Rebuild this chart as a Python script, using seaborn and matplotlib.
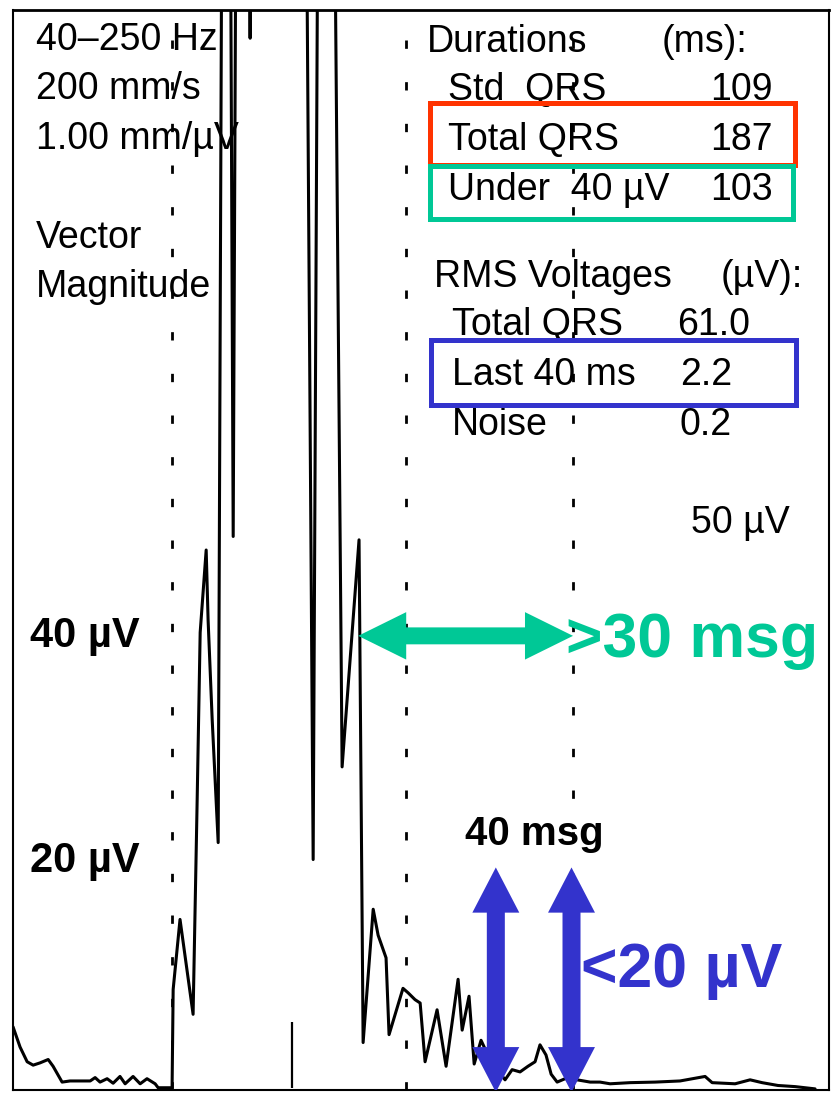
import numpy as np
import pandas as pd
import matplotlib
matplotlib.use('Agg')
import matplotlib.pyplot as plt
from matplotlib.patches import Rectangle, Polygon
import seaborn as sns

# Vector magnitude trace (time in ms from QRS onset, amplitude in uV)
trace_t = [-74.2, -70.9, -67.6, -64.8, -61.6, -57.8, -55.5, -51.3, -47.6, -38.2,
           -35.9, -33.6, -30.3, -27.5, -24.3, -21.9, -18.2, -14.9, -11.7, -7.9,
           -6.5, 0.0, 0.5, 3.7, 9.8, 11.7, 13.1, 15.9, 16.8, 18.7,
           21.5, 23.3, 27.1, 28.5, 29.9, 35.4, 36.4, 37.3, 62.5, 65.8,
           68.1, 75.6, 79.3, 87.2, 89.1, 93.8, 96.1, 99.8, 101.2, 107.7,
           110.1, 113.3, 115.7, 118.0, 123.6, 127.8, 133.4, 135.3, 138.5, 140.9,
           144.1, 148.3, 155.3, 158.6, 162.3, 166.0, 169.3, 171.6, 174.4, 176.8,
           179.6, 183.3, 188.9, 195.0, 199.6, 204.3, 213.6, 225.3, 236.9, 248.6,
           251.9, 262.6, 269.6, 275.2, 282.6, 290.6, 299.9]
trace_uv = [5.4, 3.6, 2.3, 2.0, 2.2, 2.5, 1.9, 0.5, 0.6, 0.6,
            0.9, 0.5, 0.8, 0.4, 1.0, 0.35, 1.0, 0.35, 0.8, 0.35,
            0.0, 0.0, 8.7, 14.9, 6.5, 25.5, 40.3, 47.6, 41.4, 32.6,
            21.7, 110, 110, 48.8, 110, 110, 92.9, 110, 110, 20.2,
            110, 110, 28.4, 48.5, 4.0, 15.8, 13.5, 11.5, 4.7, 8.8,
            8.4, 7.8, 7.5, 2.3, 6.9, 1.9, 9.6, 5.1, 8.1, 2.1,
            4.2, 2.5, 0.7, 1.6, 1.4, 1.9, 2.3, 3.8, 2.9, 1.2,
            0.5, 0.8, 0.7, 0.5, 0.5, 0.35, 0.45, 0.5, 0.6, 1.0,
            0.45, 0.35, 0.7, 0.45, 0.2, 0.1, -0.1]

# QRS markers (ms): onset, std QRS end, total QRS end
marker_t = [0, 109, 187]
fiducial_t = 56
fiducial_uv = 5.8

# Report values
dur_labels = ['Std  QRS', 'Total QRS', 'Under  40 \u00b5V']
dur_values = ['109', '187', '103']
rms_labels = ['Total QRS', 'Last 40 ms', 'Noise']
rms_values = ['61.0', '2.2', '0.2']
header_lines = ['40\u2013250 Hz', '200 mm/s', '1.00 mm/\u00b5V', '', 'Vector', 'Magnitude']

# Annotation values
under40_start = 86.8
qrs_end = 187
last40_start = 151
last40_end = 186.3
arrow_level = 40
arrow_top = 19.5
arrow_bottom = -0.4

df = pd.DataFrame({'t': trace_t, 'uv': trace_uv})

W, H = 835, 1098
fig = plt.figure(figsize=(W / 100, H / 100), dpi=100)
sns.set_style('white')
plt.rcParams['font.family'] = ['Liberation Sans', 'DejaVu Sans']
plt.rcParams['text.color'] = 'black'
ax = fig.add_axes([13 / W, 8 / H, 816 / W, 1080 / H])

sns.lineplot(data=df, x='t', y='uv', estimator=None, sort=False,
             color='black', lw=2.2, ax=ax)
for m in marker_t:
    ax.axvline(m, color='black', lw=2, ls=(0, (3, 12)), zorder=1)
ax.vlines(fiducial_t, 0, fiducial_uv, color='black', lw=1.6)

ax.set_xlim(-74.2, 306.4)
ax.set_ylim(-0.2, 95.4)
ax.set_xticks([])
ax.set_yticks([])
ax.set_xlabel('')
ax.set_ylabel('')
for s in ax.spines.values():
    s.set_color('black')
    s.set_linewidth(1.5)
ax.spines['top'].set_linewidth(2)


def pos(px, py):
    # pixel position of the scan -> axes fraction
    return (px - 13) / 816, (1090 - py) / 1080


def txt(px, py, s, **kw):
    x, y = pos(px, py)
    kw.setdefault('color', 'black')
    ax.text(x, y, s, transform=ax.transAxes, va='baseline', **kw)


def double_arrow(a0, a1, c, w, hw, hl, color, vertical=False):
    # one polygon, heads at both ends; along-axis a0..a1, cross-axis centre c
    pts = [(a0, c), (a0 + hl, c + hw / 2), (a0 + hl, c + w / 2),
           (a1 - hl, c + w / 2), (a1 - hl, c + hw / 2), (a1, c),
           (a1 - hl, c - hw / 2), (a1 - hl, c - w / 2),
           (a0 + hl, c - w / 2), (a0 + hl, c - hw / 2)]
    if vertical:
        pts = [(y, x) for x, y in pts]
    ax.add_patch(Polygon(pts, closed=True, fc=color, ec='none', zorder=6))


fs = 27

# printed header (left)
for i, line in enumerate(header_lines):
    if line:
        txt(36, 50 + i * 49.4, line, fontsize=fs)

# printed report (right)
txt(427, 52, 'Durations', fontsize=fs)
txt(662, 52, '(ms):', fontsize=fs)
for i, (lab, val) in enumerate(zip(dur_labels, dur_values)):
    txt(448, 100 + i * 50, lab, fontsize=fs)
    txt(773, 100 + i * 50, val, fontsize=fs, ha='right')
txt(434, 287, 'RMS Voltages', fontsize=fs)
txt(721, 287, '(\u00b5V):', fontsize=fs)
rms_x = [750, 732, 732]
for i, (lab, val) in enumerate(zip(rms_labels, rms_values)):
    txt(452, 335 + i * 50, lab, fontsize=fs)
    txt(rms_x[i], 335 + i * 50, val, fontsize=fs, ha='right')
txt(691, 533, '50 \u00b5V', fontsize=fs)

# highlight boxes
red, green, blue = '#FF3300', '#00C896', '#3333CC'
for (x0, y0, x1, y1), c in [((430, 103, 795, 165), red),
                            ((430, 166, 793, 219), green),
                            ((431, 340, 796, 405), blue)]:
    ax0, ay1 = pos(x0, y1)
    ax1, ay0 = pos(x1, y0)
    ax.add_patch(Rectangle((ax0, ay1), ax1 - ax0, ay0 - ay1, transform=ax.transAxes,
                           fill=False, ec=c, lw=3.6, zorder=5))

# hand annotations
txt(30, 647, '40 \u00b5V', fontsize=30, fontweight='bold')
txt(30, 872, '20 \u00b5V', fontsize=30, fontweight='bold')
txt(465, 845, '40 msg', fontsize=29, fontweight='bold')
txt(566, 657, '>30 msg', fontsize=45, fontweight='bold', color=green)
txt(581, 987, '<20 \u00b5V', fontsize=45, fontweight='bold', color=blue)

# green horizontal double arrow at 40 uV
double_arrow(under40_start, qrs_end, arrow_level, 1.5, 4.2, 22.4, green)

# blue vertical double arrows over the last 40 ms
for xa in [last40_start, last40_end]:
    double_arrow(arrow_bottom, arrow_top, xa, 8.4, 21.9, 4.0, blue, vertical=True)

fig.savefig('out.png', dpi=100)
